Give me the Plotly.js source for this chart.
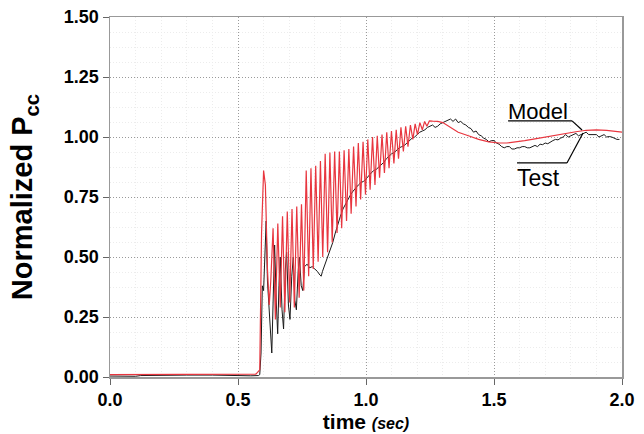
<!DOCTYPE html>
<html>
<head>
<meta charset="utf-8">
<script src="https://cdn.plot.ly/plotly-3.0.1.min.js"></script>
<style>html,body{margin:0;padding:0;background:#fff;}#chart{width:644px;height:434px;}</style>
</head>
<body>
<div id="chart"></div>
<script>
// Test (measured) series
const testTime = [0,0.05,0.1,0.12,0.2,0.3,0.4,0.45,0.5,0.55,0.58,0.585,0.59,0.595,0.60,0.605,0.61,0.615,0.62,0.625,0.632,0.638,0.643,0.65,0.655,0.66,0.665,0.672,0.678,0.685,0.69,0.697,0.703,0.71,0.716,0.722,0.728,0.735,0.74,0.747,0.753,0.76,0.77,0.78,0.79,0.80,0.81,0.82,0.825,0.83,0.84,0.85,0.86,0.87,0.88,0.89,0.90,0.91,0.92,0.93,0.94,0.95,0.96,0.97,0.98,0.99,1.00,1.01,1.02,1.03,1.04,1.05,1.06,1.07,1.08,1.09,1.10,1.11,1.12,1.13,1.14,1.15,1.16,1.17,1.18,1.19,1.20,1.21,1.22,1.23,1.24,1.25,1.26,1.27,1.28,1.29,1.30,1.31,1.32,1.33,1.34,1.35,1.36,1.37,1.38,1.39,1.40,1.41,1.42,1.43,1.44,1.45,1.46,1.47,1.48,1.49,1.50,1.51,1.52,1.53,1.54,1.55,1.56,1.57,1.58,1.59,1.60,1.61,1.62,1.63,1.64,1.65,1.66,1.67,1.68,1.69,1.70,1.71,1.72,1.73,1.74,1.75,1.76,1.77,1.78,1.79,1.80,1.81,1.82,1.83,1.84,1.85,1.86,1.87,1.88,1.89,1.90,1.91,1.92,1.93,1.94,1.95,1.96,1.97,1.98,1.99,2.00];
const testPcc  = [0.004,0.003,0.003,0.006,0.008,0.008,0.008,0.006,0.005,0.005,0.006,0.01,0.10,0.38,0.36,0.55,0.65,0.40,0.30,0.22,0.10,0.35,0.55,0.30,0.18,0.38,0.50,0.28,0.20,0.45,0.52,0.30,0.24,0.42,0.50,0.32,0.28,0.44,0.50,0.38,0.36,0.46,0.47,0.455,0.46,0.45,0.44,0.425,0.42,0.44,0.47,0.50,0.53,0.56,0.60,0.64,0.67,0.70,0.72,0.745,0.76,0.775,0.79,0.80,0.81,0.815,0.825,0.84,0.85,0.86,0.865,0.875,0.885,0.895,0.91,0.92,0.93,0.935,0.945,0.955,0.96,0.965,0.975,0.985,0.995,1.0,1.01,1.02,1.025,1.03,1.04,1.045,1.05,1.04,1.045,1.055,1.06,1.065,1.07,1.075,1.065,1.075,1.06,1.065,1.055,1.05,1.04,1.035,1.02,1.025,1.01,1.005,0.995,0.99,0.98,0.985,0.985,0.975,0.97,0.96,0.955,0.96,0.96,0.95,0.95,0.955,0.955,0.96,0.96,0.955,0.955,0.96,0.965,0.96,0.97,0.968,0.975,0.972,0.98,0.985,0.99,0.988,0.995,1.0,1.01,1.0,1.005,1.01,1.015,1.005,1.01,1.015,1.02,1.01,1.01,1.012,1.01,1.0,1.005,1.01,1.0,1.002,1.0,0.995,0.99,0.99];

// Model series
const modelTime = [0,0.2,0.4,0.57,0.585,0.592,0.600,0.607,0.615,0.622,0.628,
  0.637,0.646,0.6555,0.665,0.674,0.683,0.6925,0.702,0.711,0.720,0.7295,0.739,0.748,0.757,0.7665,0.776,0.785,0.794,0.8035,0.813,0.822,0.831,0.8405,0.850,0.859,0.868,0.8775,0.887,0.896,0.905,0.9145,0.924,0.933,0.942,0.9515,0.961,0.970,0.979,0.9885,0.998,1.007,1.016,1.0255,1.035,1.044,1.053,1.0625,1.072,1.081,1.090,1.0995,1.109,1.118,1.127,1.1365,1.146,1.155,1.164,1.1735,1.183,1.192,1.201,1.2105,1.220,1.229,1.238,1.2475,
  1.26,1.28,1.30,1.33,1.36,1.40,1.44,1.48,1.52,1.55,1.58,1.62,1.66,1.70,1.74,1.78,1.82,1.86,1.90,1.94,1.97,2.00];
const modelPcc = [0.01,0.01,0.01,0.012,0.03,0.60,0.86,0.80,0.45,0.30,0.40,
  0.62,0.24,0.64,0.29,0.67,0.27,0.69,0.31,0.70,0.29,0.71,0.33,0.72,0.36,0.86,0.42,0.87,0.45,0.88,0.48,0.90,0.50,0.93,0.52,0.935,0.56,0.94,0.60,0.94,0.62,0.945,0.65,0.95,0.68,0.96,0.71,0.975,0.74,0.98,0.76,0.99,0.78,1.0,0.80,1.005,0.83,1.01,0.85,1.02,0.87,1.025,0.89,1.03,0.91,1.04,0.94,1.045,0.96,1.05,0.99,1.055,1.01,1.06,1.03,1.065,1.045,1.067,
  1.066,1.065,1.06,1.04,1.02,1.005,0.99,0.98,0.975,0.975,0.978,0.985,0.992,1.0,1.008,1.016,1.022,1.028,1.03,1.028,1.024,1.02];

const xTicks = [0.0,0.5,1.0,1.5,2.0];
const xTickText = ['0.0','0.5','1.0','1.5','2.0'];
const yTicks = [0,0.25,0.5,0.75,1.0,1.25,1.5];
const yTickText = ['0.00','0.25','0.50','0.75','1.00','1.25','1.50'];

const F = 'Liberation Sans, Arial, sans-serif';

const traces = [
  {x: testTime, y: testPcc, type:'scatter', mode:'lines', name:'Test',
   line:{color:'#1a1a1a', width:1}},
  {x: modelTime, y: modelPcc, type:'scatter', mode:'lines', name:'Model',
   line:{color:'#e8363f', width:1.2}}
];

const layout = {
  width:644, height:434,
  margin:{l:110, r:22, t:17, b:57},
  paper_bgcolor:'#fff', plot_bgcolor:'#fff',
  showlegend:false,
  xaxis:{
    range:[0,2], tickvals:xTicks, ticktext:xTickText,
    ticks:'outside', ticklen:6, tickcolor:'#666', tickwidth:1,
    showline:true, mirror:true, linecolor:'#999', linewidth:1.5,
    showgrid:true, gridcolor:'#9a9a9a', griddash:'1px,2px', gridwidth:1,
    minor:{dtick:0.1, tick0:0, showgrid:true, gridcolor:'#ececec', gridwidth:1, ticks:''},
    zeroline:false,
    tickfont:{family:F, size:18, color:'#000', weight:'bold'},
    title:{text:'time <span style="font-size:16px"><i>(sec)</i></span>', font:{family:F, size:21, color:'#000', weight:'bold'}, standoff:3}
  },
  yaxis:{
    range:[0,1.5], tickvals:yTicks, ticktext:yTickText,
    ticks:'outside', ticklen:6, tickcolor:'#666', tickwidth:1,
    showline:true, mirror:true, linecolor:'#999', linewidth:1.5,
    showgrid:true, gridcolor:'#9a9a9a', griddash:'1px,2px', gridwidth:1,
    minor:{dtick:0.0625, tick0:0, showgrid:true, gridcolor:'#ececec', gridwidth:1, ticks:''},
    zeroline:false,
    tickfont:{family:F, size:18, color:'#000', weight:'bold'},
    title:{text:'Normalized P<sub>cc</sub>', font:{family:F, size:29, color:'#000', weight:'bold'}, standoff:22}
  },
  annotations:[
    {x:1.67, y:1.108, xref:'x', yref:'y', text:'Model', showarrow:false,
     font:{family:F, size:22, color:'#000'}, xanchor:'center', yanchor:'middle'},
    {x:1.675, y:0.83, xref:'x', yref:'y', text:'Test', showarrow:false,
     font:{family:F, size:23, color:'#000'}, xanchor:'center', yanchor:'middle'}
  ],
  shapes:[
    {type:'line', xref:'x', yref:'y', x0:1.555, y0:1.067, x1:1.805, y1:1.067, line:{color:'#000', width:1.2}},
    {type:'line', xref:'x', yref:'y', x0:1.805, y0:1.067, x1:1.844, y1:1.029, line:{color:'#000', width:1.2}},
    {type:'line', xref:'x', yref:'y', x0:1.59, y0:0.892, x1:1.785, y1:0.892, line:{color:'#000', width:1.2}},
    {type:'line', xref:'x', yref:'y', x0:1.785, y0:0.892, x1:1.848, y1:1.017, line:{color:'#000', width:1.2}}
  ]
};

Plotly.newPlot('chart', traces, layout, {displayModeBar:false, staticPlot:true});
</script>
</body>
</html>
